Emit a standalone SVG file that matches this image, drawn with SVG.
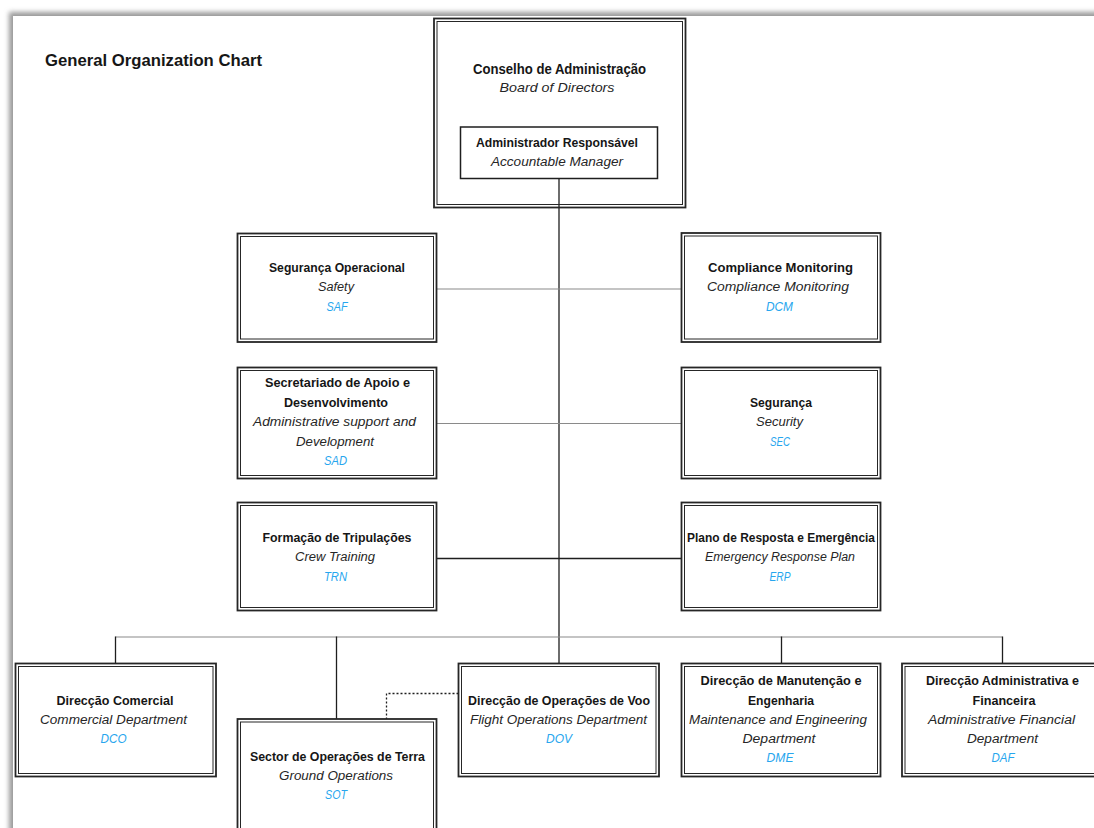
<svg xmlns="http://www.w3.org/2000/svg" width="1094" height="828" viewBox="0 0 1094 828">
  <defs>
    <filter id="pageShadow" x="-5%" y="-5%" width="110%" height="110%">
      <feGaussianBlur stdDeviation="2.5"/>
    </filter>
    <style>
      .outer { fill: none; stroke: #262626; stroke-width: 1.8; }
      .inner { fill: none; stroke: #262626; stroke-width: 1; }
      .single { fill: #fff; stroke: #1e1e1e; stroke-width: 1.5; }
      .t { font-family: "Liberation Sans", Arial, sans-serif; text-anchor: middle; }
      .b { font-weight: bold; font-size: 12.5px; fill: #161616; }
      .i { font-style: italic; font-size: 12px; fill: #262626; }
      .c { font-style: italic; font-size: 12px; fill: #27a6ee; }
      .dark { stroke: #1e1e1e; stroke-width: 1.3; fill: none; }
      .grey { stroke: #8a8a8a; stroke-width: 1.1; fill: none; }
      .dots { stroke: #1e1e1e; stroke-width: 1.3; stroke-dasharray: 2 2; fill: none; }
    </style>
  </defs>

  <!-- page with soft shadow on its top and left edges -->
  <rect x="0" y="0" width="1094" height="828" fill="#ffffff"/>
  <rect x="9" y="12" width="1200" height="900" fill="#9a9a9a" filter="url(#pageShadow)"/>
  <rect x="13" y="16" width="1200" height="900" fill="#ffffff"/>

  <text class="t" x="45" y="66" style="text-anchor:start;font-weight:bold;font-size:17px;fill:#161616" textLength="217" lengthAdjust="spacingAndGlyphs">General Organization Chart</text>

  <!-- connectors -->
  <g id="connectors">
    <line class="dark" x1="559" y1="178.5" x2="559" y2="663.5"/>
    <line class="grey" x1="437" y1="289" x2="681.5" y2="289"/>
    <line class="grey" x1="437" y1="423.5" x2="681.5" y2="423.5"/>
    <line class="dark" x1="437" y1="558.5" x2="681.5" y2="558.5"/>
    <line class="grey" x1="115.5" y1="637" x2="1002.5" y2="637"/>
    <line class="dark" x1="115.5" y1="636.5" x2="115.5" y2="663.5"/>
    <line class="dark" x1="336.5" y1="636.5" x2="336.5" y2="719"/>
    <line class="dark" x1="781.5" y1="636.5" x2="781.5" y2="663.5"/>
    <line class="dark" x1="1002.5" y1="636.5" x2="1002.5" y2="663.5"/>
    <polyline class="dots" points="458.5,693.5 386.5,693.5 386.5,719"/>
  </g>

  <!-- board of directors -->
  <g id="board">
    <rect class="outer" x="434" y="18.5" width="251.5" height="189"/>
    <rect class="inner" x="437" y="21.5" width="245.5" height="183"/>
    <text class="t b" x="559.5" y="73.5" style="font-size:14px" textLength="173" lengthAdjust="spacingAndGlyphs">Conselho de Administração</text>
    <text class="t i" x="557" y="92" style="font-size:13px" textLength="115" lengthAdjust="spacingAndGlyphs">Board of Directors</text>
  </g>

  <!-- accountable manager -->
  <g id="accountable-manager">
    <rect class="single" x="460.5" y="127" width="197" height="51.5"/>
    <text class="t b" x="557" y="147" textLength="162" lengthAdjust="spacingAndGlyphs">Administrador Responsável</text>
    <text class="t i" x="557" y="166" textLength="132" lengthAdjust="spacingAndGlyphs">Accountable Manager</text>
  </g>

  <!-- staff functions, left column -->
  <g id="saf">
    <rect class="outer" x="237.5" y="233.5" width="199" height="108.5"/>
    <rect class="inner" x="240.5" y="236.5" width="193" height="102.5"/>
    <text class="t b" x="337" y="272" textLength="136" lengthAdjust="spacingAndGlyphs">Segurança Operacional</text>
    <text class="t i" x="336" y="291" textLength="36" lengthAdjust="spacingAndGlyphs">Safety</text>
    <text class="t c" x="337" y="310.5" textLength="21" lengthAdjust="spacingAndGlyphs">SAF</text>
  </g>

  <g id="sad">
    <rect class="outer" x="237.5" y="367.5" width="199" height="111"/>
    <rect class="inner" x="240.5" y="370.5" width="193" height="105"/>
    <text class="t b" x="337.5" y="387" textLength="145" lengthAdjust="spacingAndGlyphs">Secretariado de Apoio e</text>
    <text class="t b" x="336" y="406.5" textLength="104" lengthAdjust="spacingAndGlyphs">Desenvolvimento</text>
    <text class="t i" x="334.5" y="426" textLength="163" lengthAdjust="spacingAndGlyphs">Administrative support and</text>
    <text class="t i" x="335" y="445.5" textLength="78" lengthAdjust="spacingAndGlyphs">Development</text>
    <text class="t c" x="335.5" y="464.5" textLength="23" lengthAdjust="spacingAndGlyphs">SAD</text>
  </g>

  <g id="trn">
    <rect class="outer" x="237.5" y="502.5" width="199" height="108"/>
    <rect class="inner" x="240.5" y="505.5" width="193" height="102"/>
    <text class="t b" x="337" y="542" textLength="149" lengthAdjust="spacingAndGlyphs">Formação de Tripulações</text>
    <text class="t i" x="335" y="561" textLength="80" lengthAdjust="spacingAndGlyphs">Crew Training</text>
    <text class="t c" x="335.5" y="580.5" textLength="23" lengthAdjust="spacingAndGlyphs">TRN</text>
  </g>

  <!-- staff functions, right column -->
  <g id="dcm">
    <rect class="outer" x="681.5" y="233" width="199" height="109"/>
    <rect class="inner" x="684.5" y="236" width="193" height="103"/>
    <text class="t b" x="780.5" y="272" textLength="145" lengthAdjust="spacingAndGlyphs">Compliance Monitoring</text>
    <text class="t i" x="778" y="291" textLength="142" lengthAdjust="spacingAndGlyphs">Compliance Monitoring</text>
    <text class="t c" x="779.5" y="310.5" textLength="27" lengthAdjust="spacingAndGlyphs">DCM</text>
  </g>

  <g id="sec">
    <rect class="outer" x="681.5" y="367.5" width="199" height="111"/>
    <rect class="inner" x="684.5" y="370.5" width="193" height="105"/>
    <text class="t b" x="781" y="407" textLength="62" lengthAdjust="spacingAndGlyphs">Segurança</text>
    <text class="t i" x="779.5" y="426" textLength="47" lengthAdjust="spacingAndGlyphs">Security</text>
    <text class="t c" x="780" y="445.5" textLength="20" lengthAdjust="spacingAndGlyphs">SEC</text>
  </g>

  <g id="erp">
    <rect class="outer" x="681.5" y="502.5" width="199" height="108"/>
    <rect class="inner" x="684.5" y="505.5" width="193" height="102"/>
    <text class="t b" x="781" y="542" textLength="188" lengthAdjust="spacingAndGlyphs">Plano de Resposta e Emergência</text>
    <text class="t i" x="780" y="561" textLength="150" lengthAdjust="spacingAndGlyphs">Emergency Response Plan</text>
    <text class="t c" x="780" y="580.5" textLength="21" lengthAdjust="spacingAndGlyphs">ERP</text>
  </g>

  <!-- departments -->
  <g id="dco">
    <rect class="outer" x="15.5" y="663.5" width="200.5" height="113"/>
    <rect class="inner" x="18.5" y="666.5" width="194.5" height="107"/>
    <text class="t b" x="115" y="704.5" textLength="117" lengthAdjust="spacingAndGlyphs">Direcção Comercial</text>
    <text class="t i" x="113.5" y="723.5" textLength="147" lengthAdjust="spacingAndGlyphs">Commercial Department</text>
    <text class="t c" x="113.5" y="743" textLength="26" lengthAdjust="spacingAndGlyphs">DCO</text>
  </g>

  <g id="sot">
    <rect class="outer" x="237.5" y="719" width="199" height="130"/>
    <rect class="inner" x="240.5" y="722" width="193" height="124"/>
    <text class="t b" x="337.5" y="760.5" textLength="175" lengthAdjust="spacingAndGlyphs">Sector de Operações de Terra</text>
    <text class="t i" x="336" y="779.5" textLength="114" lengthAdjust="spacingAndGlyphs">Ground Operations</text>
    <text class="t c" x="336" y="799" textLength="22" lengthAdjust="spacingAndGlyphs">SOT</text>
  </g>

  <g id="dov">
    <rect class="outer" x="458.5" y="663.5" width="200.5" height="113"/>
    <rect class="inner" x="461.5" y="666.5" width="194.5" height="107"/>
    <text class="t b" x="559" y="704.5" textLength="182" lengthAdjust="spacingAndGlyphs">Direcção de Operações de Voo</text>
    <text class="t i" x="558.5" y="723.5" textLength="177" lengthAdjust="spacingAndGlyphs">Flight Operations Department</text>
    <text class="t c" x="559" y="743" textLength="26" lengthAdjust="spacingAndGlyphs">DOV</text>
  </g>

  <g id="dme">
    <rect class="outer" x="681.5" y="663.5" width="199" height="113"/>
    <rect class="inner" x="684.5" y="666.5" width="193" height="107"/>
    <text class="t b" x="781" y="685" textLength="161" lengthAdjust="spacingAndGlyphs">Direcção de Manutenção e</text>
    <text class="t b" x="781" y="704.5" textLength="66" lengthAdjust="spacingAndGlyphs">Engenharia</text>
    <text class="t i" x="778" y="723.5" textLength="178" lengthAdjust="spacingAndGlyphs">Maintenance and Engineering</text>
    <text class="t i" x="779" y="743" textLength="73" lengthAdjust="spacingAndGlyphs">Department</text>
    <text class="t c" x="780" y="762" textLength="27" lengthAdjust="spacingAndGlyphs">DME</text>
  </g>

  <g id="daf">
    <rect class="outer" x="902" y="663.5" width="200" height="113"/>
    <rect class="inner" x="905" y="666.5" width="194" height="107"/>
    <text class="t b" x="1002.5" y="685" textLength="153" lengthAdjust="spacingAndGlyphs">Direcção Administrativa e</text>
    <text class="t b" x="1004" y="704.5" textLength="63" lengthAdjust="spacingAndGlyphs">Financeira</text>
    <text class="t i" x="1001.5" y="723.5" textLength="147" lengthAdjust="spacingAndGlyphs">Administrative Financial</text>
    <text class="t i" x="1002.5" y="743" textLength="71" lengthAdjust="spacingAndGlyphs">Department</text>
    <text class="t c" x="1003" y="762" textLength="23" lengthAdjust="spacingAndGlyphs">DAF</text>
  </g>
</svg>
